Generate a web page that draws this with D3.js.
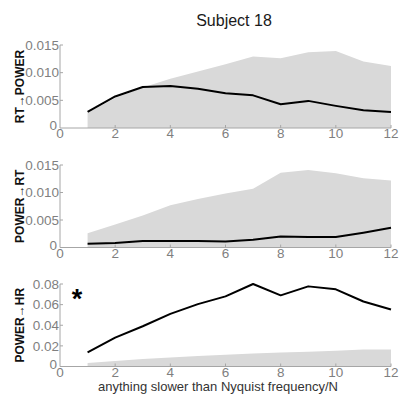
<!DOCTYPE html>
<html>
<head>
<meta charset="utf-8">
<script src="https://cdn.jsdelivr.net/npm/d3@7"></script>
<style>
  html, body { margin: 0; padding: 0; background: #fff; }
  svg { display: block; }
</style>
</head>
<body>
<svg id="chart" width="403" height="394"></svg>
<script>
// ---- data ----
const freq = [1, 2, 3, 4, 5, 6, 7, 8, 9, 10, 11, 12];
const xTicks = [0, 2, 4, 6, 8, 10, 12];

const rtPowerMean = [0.0029, 0.0057, 0.0074, 0.0076, 0.0071, 0.0063, 0.0059, 0.0043, 0.0049, 0.0040, 0.0032, 0.0029];
const rtPowerNull = [0.0027, 0.0054, 0.0073, 0.0089, 0.0102, 0.0115, 0.0129, 0.0126, 0.0137, 0.0139, 0.0120, 0.0112];

const powerRtMean = [0.0007, 0.0008, 0.0012, 0.0012, 0.0012, 0.0011, 0.0014, 0.0020, 0.0019, 0.0019, 0.0027, 0.0036];
const powerRtNull = [0.0026, 0.0042, 0.0058, 0.0077, 0.0088, 0.0098, 0.0107, 0.0136, 0.0141, 0.0135, 0.0126, 0.0122];

const powerHrMean = [0.0136, 0.0280, 0.0390, 0.0510, 0.0605, 0.0680, 0.0800, 0.0690, 0.0777, 0.0748, 0.0630, 0.0553];
const powerHrNull = [0.0033, 0.0053, 0.0072, 0.0088, 0.0102, 0.0114, 0.0126, 0.0136, 0.0144, 0.0153, 0.0165, 0.0166];

const smallTicks = [0, 0.005, 0.010, 0.015];
const smallTickLabels = ["0", "0.005", "0.010", "0.015"];
const hrTicks = [0, 0.02, 0.04, 0.06, 0.08];
const hrTickLabels = ["0", "0.02", "0.04", "0.06", "0.08"];

const panels = [
  { label: "RT\u2192POWER", mean: rtPowerMean, nul: rtPowerNull, ticks: smallTicks, tickLabels: smallTickLabels, max: 0.015, y0: 128, yTop: 45, star: false },
  { label: "POWER\u2192RT", mean: powerRtMean, nul: powerRtNull, ticks: smallTicks, tickLabels: smallTickLabels, max: 0.015, y0: 247.5, yTop: 165, star: false },
  { label: "POWER\u2192HR", mean: powerHrMean, nul: powerHrNull, ticks: hrTicks, tickLabels: hrTickLabels, max: 0.08, y0: 366.5, yTop: 284, star: true }
];

const svg = d3.select("#chart");
const FONT = "'Liberation Sans', Arial, Helvetica, sans-serif";
const axisColor = "#a6a6a6";
const tickTextColor = "#7f7f7f";

const x = d3.scaleLinear().domain([0, 12]).range([60, 391]);

// title
svg.append("text")
  .attr("x", 234).attr("y", 26)
  .attr("text-anchor", "middle")
  .attr("font-family", FONT).attr("font-size", 16)
  .attr("fill", "#1a1a1a")
  .text("Subject 18");

panels.forEach(p => {
  const y = d3.scaleLinear().domain([0, p.max]).range([p.y0, p.yTop]);
  const g = svg.append("g");

  // null distribution area
  const area = d3.area()
    .x((d, i) => x(freq[i]))
    .y0(y(0))
    .y1(d => y(d));
  g.append("path")
    .datum(p.nul)
    .attr("d", area)
    .attr("fill", "#d9d9d9");

  // axes lines
  g.append("line")
    .attr("x1", x(0)).attr("x2", x(0))
    .attr("y1", y(p.max)).attr("y2", y(0))
    .attr("stroke", axisColor).attr("stroke-width", 1);
  g.append("line")
    .attr("x1", x(0)).attr("x2", x(12))
    .attr("y1", y(0)).attr("y2", y(0))
    .attr("stroke", axisColor).attr("stroke-width", 1);

  // y ticks (inward)
  p.ticks.forEach((t, i) => {
    if (t !== 0) {
      g.append("line")
        .attr("x1", x(0)).attr("x2", x(0) + 3)
        .attr("y1", y(t)).attr("y2", y(t))
        .attr("stroke", axisColor);
    }
    g.append("text")
      .attr("x", x(0) - (t === 0 ? 3 : 1)).attr("y", y(t) + (t === 0 ? 2 : 4.8))
      .attr("text-anchor", "end")
      .attr("font-family", FONT).attr("font-size", 13.5)
      .attr("fill", tickTextColor)
      .text(p.tickLabels[i]);
  });

  // x ticks (inward)
  xTicks.forEach(t => {
    if (t !== 0) {
      g.append("line")
        .attr("x1", x(t)).attr("x2", x(t))
        .attr("y1", y(0)).attr("y2", y(0) - 3)
        .attr("stroke", axisColor);
    }
    g.append("text")
      .attr("x", x(t)).attr("y", y(0) + 10)
      .attr("text-anchor", "middle")
      .attr("font-family", FONT).attr("font-size", 13.5)
      .attr("fill", tickTextColor)
      .text(t);
  });

  // mean line
  const line = d3.line()
    .x((d, i) => x(freq[i]))
    .y(d => y(d));
  g.append("path")
    .datum(p.mean)
    .attr("d", line)
    .attr("fill", "none")
    .attr("stroke", "#000")
    .attr("stroke-width", 2)
    .attr("stroke-linejoin", "round");

  // y label
  const cy = (p.y0 + p.yTop) / 2;
  g.append("text")
    .attr("transform", `translate(24,${cy}) rotate(-90)`)
    .attr("text-anchor", "middle")
    .attr("font-family", FONT).attr("font-size", 12).attr("font-weight", "bold")
    .attr("fill", "#111")
    .text(p.label);

  if (p.star) {
    g.append("text")
      .attr("x", 77).attr("y", 308)
      .attr("text-anchor", "middle")
      .attr("font-family", FONT).attr("font-size", 27).attr("font-weight", "bold")
      .attr("fill", "#000")
      .text("*");
  }
});

// x label
svg.append("text")
  .attr("x", 218).attr("y", 390.5)
  .attr("text-anchor", "middle")
  .attr("font-family", FONT).attr("font-size", 13)
  .attr("fill", "#333")
  .text("anything slower than Nyquist frequency/N");
</script>
</body>
</html>
